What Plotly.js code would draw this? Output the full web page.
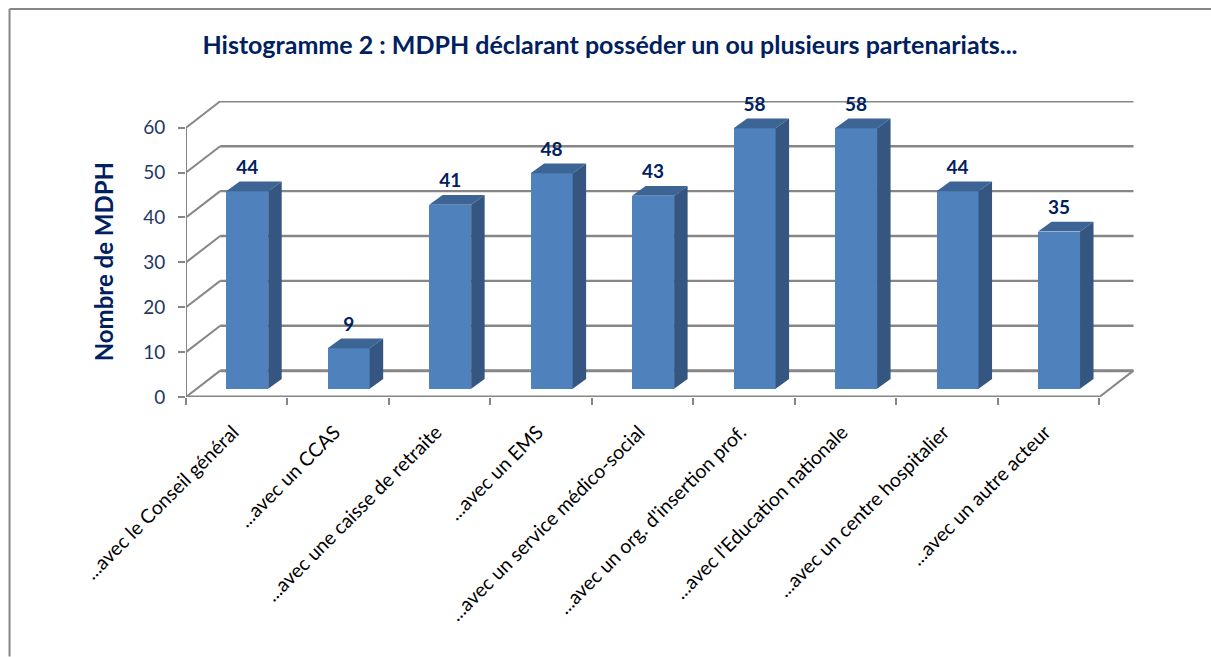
<!DOCTYPE html>
<html><head><meta charset="utf-8">
<script src="https://cdn.plot.ly/plotly-3.0.0.min.js"></script>
<style>html,body{margin:0;padding:0;background:#fff;overflow:hidden}</style>
</head><body><div id="chart" style="width:1211px;height:657px"></div>
<script>
const categories = ["...avec le Conseil général","...avec un CCAS","...avec une caisse de retraite","...avec un EMS","...avec un service médico-social","...avec un org. d'insertion prof.","...avec l'Education nationale","...avec un centre hospitalier","...avec un autre acteur"];
const values = [44,9,41,48,43,58,58,44,35];
const yTicks = [0,10,20,30,40,50,60];
const titleText = "Histogramme 2 : MDPH déclarant posséder un ou plusieurs partenariats...";
const yTitle = "Nombre de MDPH";

// geometry of the fake 3D projection, in axis units
const W = 1211, H = 657;
const L = 185.5, R = 1135.7, T = 101, B = 397.3;
const pxX = 101.5, pxY = 4.493;
const wallDx = 34.2 / pxX, wallDy = 26.4 / pxY;
const barLeft = 0.396, barWidth = 0.414, barBase = 1.85;
const barDx = 13.5 / pxX, barDy = 9.8 / pxY;
const labelGap = 4.9;
const n = categories.length;
const grey = "#868686";
const navy = "#002060";

const idx = categories.map((_, i) => i);
const centers = idx.map(i => i + barLeft + barWidth / 2);

const topX = [], topY = [], sideX = [], sideY = [];
values.forEach((v, i) => {
  const x0 = i + barLeft, x1 = x0 + barWidth, y1 = v + barBase;
  topX.push(x0, x0 + barDx, x1 + barDx, x1, x0, null);
  topY.push(y1, y1 + barDy, y1 + barDy, y1, y1, null);
  sideX.push(x1, x1 + barDx, x1 + barDx, x1, x1, null);
  sideY.push(barBase, barBase + barDy, y1 + barDy, y1, barBase, null);
});

const data = [
  {type:"bar", x:centers, y:values, base:barBase, width:barWidth, marker:{color:"#4f81bd", line:{width:0}}, hoverinfo:"y", showlegend:false},
  {type:"scatter", mode:"lines", x:topX, y:topY, fill:"toself", fillcolor:"#3c6494", line:{width:0, color:"#3c6494"}, hoverinfo:"skip", showlegend:false},
  {type:"scatter", mode:"lines", x:sideX, y:sideY, fill:"toself", fillcolor:"#345680", line:{width:0, color:"#345680"}, hoverinfo:"skip", showlegend:false},
  {type:"scatter", mode:"text", x:centers, y:values.map(v => v + barBase + labelGap), text:values.map(String),
   textposition:"middle center", textfont:{family:"Lato, sans-serif", size:19, color:navy, weight:700}, hoverinfo:"skip", showlegend:false, cliponaxis:false}
];

const shapes = [];
const ln = (x0,y0,x1,y1,w) => shapes.push({type:"line", xref:"x", yref:"y", layer:"below", x0,y0,x1,y1, line:{color:grey, width:w}});
yTicks.forEach(t => {
  ln(wallDx, t + wallDy, n + wallDx, t + wallDy, t === 0 ? 3 : 2.4);
  ln(0, t, wallDx, t + wallDy, 2);
});
ln(0, 0, 0, 60, 2);
ln(0, 0, n, 0, 3);
ln(n, 0, n + wallDx, wallDy, 2);
// chart frame (top and left edges; the others fall outside the picture)
const px = x => (x - L) / (R - L), py = y => (B - y) / (B - T);
[[9,9,1211,9],[9,9,9,657]].forEach(s => shapes.push({type:"line", xref:"paper", yref:"paper", layer:"above",
  x0:px(s[0]), y0:py(s[1]), x1:px(s[2]), y1:py(s[3]), line:{color:grey, width:2}}));

const layout = {
  width:W, height:H, autosize:false,
  margin:{l:L, r:W-R, t:T, b:H-B, pad:0},
  paper_bgcolor:"#fff", plot_bgcolor:"rgba(0,0,0,0)",
  showlegend:false, bargap:0,
  title:{text:titleText, x:610/W, xref:"container", xanchor:"center", y:1-45/H, yref:"container", yanchor:"middle",
         font:{family:"Lato, sans-serif", size:25, color:navy, weight:700}},
  xaxis:{range:[0,(R-L)/pxX], tickmode:"array", tickvals:idx.map(i=>i+0.465), ticktext:categories, tickangle:-45,
         ticks:"", ticklen:0, ticklabelstandoff:19, showgrid:false, zeroline:false, showline:false,
         tickfont:{family:"Lato, sans-serif", size:19.5, color:"#000"},
         minor:{tickmode:"array", tickvals:idx.concat([n]), ticks:"outside", ticklen:7, tickwidth:2, tickcolor:grey, showgrid:false}},
  yaxis:{range:[0,(B-T)/pxY], tickmode:"array", tickvals:yTicks, ticktext:yTicks.map(String), ticks:"outside", ticklen:7, tickwidth:2, tickcolor:grey,
         ticklabelstandoff:9, showgrid:false, zeroline:false, showline:false,
         tickfont:{family:"Lato, sans-serif", size:19, color:"#1f3864"}},
  annotations:[{text:yTitle, xref:"paper", yref:"paper", x:px(103), y:py(262), xanchor:"center", yanchor:"middle", textangle:-90, showarrow:false,
         font:{family:"Lato, sans-serif", size:24, color:navy, weight:700}}],
  shapes:shapes
};
Plotly.newPlot("chart", data, layout, {displayModeBar:false, staticPlot:true});
</script></body></html>
